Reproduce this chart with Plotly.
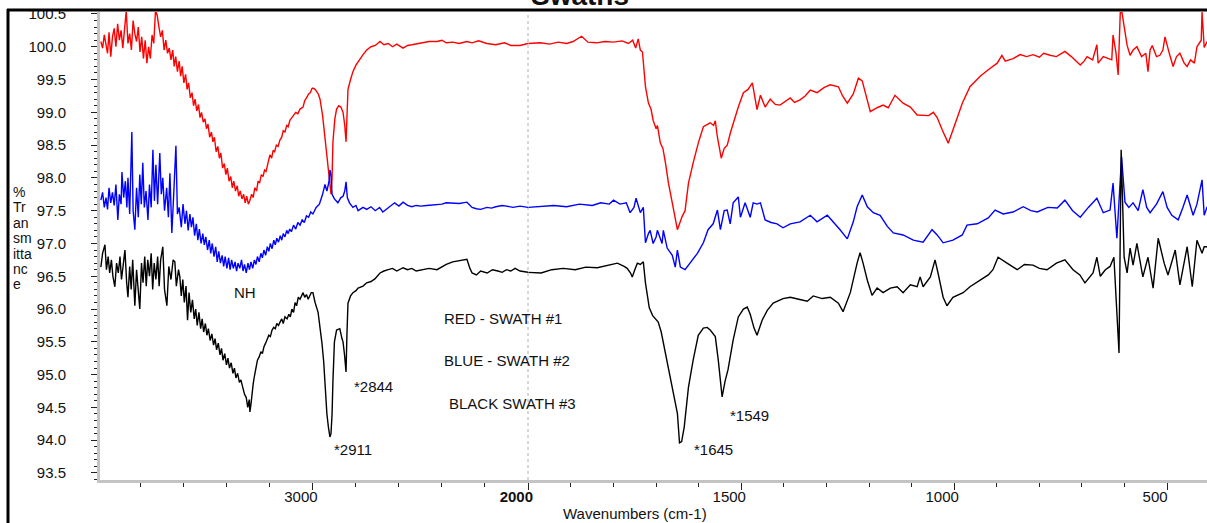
import plotly.graph_objects as go

# ---------------- data (wavenumber cm-1, % transmittance) ----------------
red_wn = [3986,3978,3970,3962,3955,3948,3940,3932,3924,3916,3908,3900,3892,3884,3876,3868,3860,3852,3844,3836,
          3828,3820,3812,3804,3796,3788,3780,3772,3764,3756,3748,3740,3732,3724,3716,3708,3700,3692,3684,3676,
          3668,3660,3652,3645,3638,3630,3622,3615,3608,3600,3592,3585,3578,3570,3562,3555,3548,3540,3532,3525,
          3518,3510,3502,3495,3488,3480,3472,3465,3458,3450,3442,3435,3428,3420,3412,3405,3398,3390,3382,3375,
          3368,3360,3352,3345,3338,3330,3322,3315,3308,3300,3293,3285,3278,3270,3262,3255,3248,3240,3232,3225,
          3218,3210,3200,3192,3185,3178,3170,3162,3153,3145,3138,3130,3122,3115,3107,3098,3090,3080,3070,3060,
          3046,3038,3030,3020,3012,3005,3000,2990,2975,2967,2955,2944,2935,2928,2921,2916,2911,2907,2898,2890,
          2880,2870,2860,2852,2846,2842,2837,2825,2814,2800,2785,2767,2750,2730,2710,2688,2670,2650,2630,2610,
          2581,2560,2540,2500,2460,2423,2400,2380,2350,2320,2284,2260,2230,2191,2150,2110,2080,2037,2000,
          1972,1950,1930,1910,1895,1875,1860,1840,1820,1800,1780,1765,1755,1748,1742,1737,1732,1725,1718,1712,
          1707,1700,1697,1690,1684,1678,1671,1662,1656,1650,1645,1639,1632,1624,1613,1601,1589,1573,1565,1561,
          1556,1547,1540,1533,1525,1519,1507,1495,1484,1474,1467,1463,1455,1444,1432,1420,1409,1395,1385,1375,
          1362,1350,1338,1322,1305,1291,1272,1262,1251,1237,1225,1216,1205,1197,1181,1167,1155,1139,1120,1103,
          1087,1073,1060,1049,1040,1028,1014,1003,981,963,939,920,899,888,880,862,845,830,815,800,
          790,775,760,740,725,704,695,688,675,665,662,650,639,630,627,620,615,610,606,601,
          594,587,580,571,560,550,545,540,535,525,517,510,505,495,486,478,470,460,453,445,
          436,430,420,418,413,406]
red_t = [100.08,99.98,100.18,100.05,99.90,100.22,99.85,100.15,100.28,100.00,100.35,100.10,100.25,99.98,100.30,100.55,100.05,100.20,99.95,100.40,
         100.20,100.08,100.30,99.92,100.15,99.82,100.10,99.75,100.00,99.82,100.18,100.05,100.55,100.48,100.30,100.15,100.25,99.95,100.10,99.90,
         99.98,99.80,99.95,99.70,99.85,99.62,99.78,99.55,99.70,99.45,99.58,99.35,99.45,99.22,99.30,99.10,99.20,99.02,99.12,98.92,
         99.00,98.85,98.90,98.75,98.82,98.62,98.70,98.55,98.62,98.40,98.48,98.30,98.38,98.15,98.22,98.05,98.15,97.95,98.02,97.85,
         97.95,97.80,97.88,97.72,97.80,97.68,97.75,97.62,97.72,97.60,97.66,97.75,97.70,97.85,97.80,97.95,97.92,98.05,98.02,98.12,
         98.10,98.22,98.35,98.30,98.42,98.40,98.50,98.48,98.58,98.62,98.72,98.70,98.80,98.78,98.88,98.92,98.95,99.00,98.98,99.05,
         99.08,99.18,99.22,99.28,99.30,99.36,99.37,99.35,99.28,99.20,98.95,98.60,98.40,98.10,97.85,97.75,98.00,98.55,98.90,99.05,
         99.10,99.08,99.00,98.80,98.55,98.90,99.35,99.50,99.62,99.72,99.80,99.88,99.95,100.00,100.02,100.08,100.03,100.05,100.00,100.04,
         99.98,100.02,100.03,100.05,100.08,100.08,100.10,100.06,100.07,100.05,100.08,100.06,100.09,100.05,100.03,100.06,100.02,100.02,100.05,
         100.06,100.04,100.07,100.05,100.08,100.16,100.07,100.06,100.08,100.07,100.09,100.05,100.10,99.98,100.12,99.95,99.92,99.39,99.14,99.05,
         98.88,98.75,98.80,98.53,98.45,98.23,97.92,97.62,97.40,97.21,97.30,97.41,97.50,97.92,98.23,98.53,98.78,98.84,98.80,98.87,
         98.62,98.30,98.45,98.50,98.70,98.84,99.08,99.30,99.35,99.45,99.14,99.04,99.26,99.08,99.20,99.12,99.11,99.18,99.22,99.15,
         99.19,99.25,99.34,99.30,99.38,99.42,99.39,99.25,99.14,99.28,99.52,99.48,99.20,99.01,99.07,99.11,99.07,99.26,99.14,99.08,
         98.96,98.96,98.95,99.00,98.92,98.73,98.53,98.73,99.14,99.39,99.55,99.65,99.75,99.87,99.78,99.82,99.88,99.85,99.88,99.84,
         99.90,99.87,99.85,99.93,99.85,99.72,99.78,99.85,99.80,100.03,99.75,99.85,99.82,99.80,100.18,99.90,99.57,100.53,100.52,100.30,
         100.02,99.87,99.95,100.00,99.85,99.90,99.62,99.95,100.02,99.85,99.87,99.95,100.15,99.90,99.70,99.85,99.90,99.75,99.70,99.80,
         99.75,100.00,100.10,100.53,99.99,100.08]

blue_wn = [3986,3978,3970,3962,3955,3948,3940,3932,3924,3916,3907,3900,3892,3888,3880,3872,3865,3860,3852,3842,
           3836,3828,3820,3812,3805,3798,3791,3784,3776,3767,3760,3752,3744,3737,3730,3722,3712,3705,3698,3690,
           3680,3672,3665,3656,3648,3637,3630,3622,3612,3604,3595,3588,3580,3572,3565,3558,3550,3542,3535,3528,
           3520,3512,3505,3498,3490,3482,3475,3468,3460,3452,3445,3438,3430,3422,3415,3408,3400,3392,3385,3378,
           3370,3362,3355,3348,3340,3332,3325,3318,3310,3302,3295,3288,3280,3272,3265,3258,3250,3242,3235,3228,
           3220,3212,3205,3198,3190,3182,3175,3168,3160,3152,3145,3138,3130,3122,3115,3108,3100,3090,3080,3070,
           3060,3050,3040,3030,3020,3010,3000,2985,2970,2955,
           2944,2935,2925,2921,2916,2911,2900,2884,2870,2860,2852,2846,2840,2830,2814,2800,2790,2767,2750,2730,
           2710,2690,2675,2660,2640,2620,2600,2581,2560,2540,2520,2500,2470,2440,2423,2400,2380,2350,2320,2284,
           2260,2240,2220,2191,2170,2150,2120,2100,2070,2037,2000,1970,1940,1910,1880,1850,1830,1810,1800,1785,
           1770,1761,1752,1747,1740,1737,1730,1725,1718,1714,1707,1700,1697,1690,1686,1683,1674,1662,1655,1650,
           1643,1632,1620,1603,1589,1578,1566,1556,1549,1540,1533,1526,1519,1507,1502,1491,1479,1472,1463,1455,
           1444,1430,1416,1402,1385,1362,1338,1322,1298,1284,1268,1251,1237,1228,1216,1204,1190,1174,1157,1143,
           1120,1096,1073,1052,1040,1026,1003,981,970,946,920,904,885,862,838,820,805,780,758,740,
           722,704,685,665,650,634,627,618,607,599,590,580,568,557,548,540,525,510,500,489,
           474,463,453,439,430,418,413,406]
blue_t = [97.66,97.78,97.55,97.70,97.52,97.85,97.62,97.78,97.58,97.90,97.36,97.75,97.60,98.09,97.70,97.95,97.55,98.00,97.45,98.70,
          97.50,97.21,97.85,97.40,98.05,97.60,98.23,97.55,97.80,97.36,97.90,97.55,98.43,97.65,98.20,97.60,98.38,97.75,98.00,97.50,
          97.85,97.40,98.07,97.16,97.70,98.49,97.45,97.55,97.25,97.60,97.30,97.50,97.20,97.45,97.25,97.40,97.12,97.30,97.05,97.22,
          97.00,97.15,96.98,97.10,96.90,97.05,96.85,97.00,96.80,96.95,96.72,96.88,96.70,96.82,96.65,96.80,96.62,96.78,96.60,96.75,
          96.62,96.72,96.58,96.70,96.62,96.75,96.58,96.68,96.55,96.70,96.60,96.72,96.62,96.75,96.68,96.80,96.72,96.85,96.78,96.90,
          96.82,96.95,96.88,97.00,96.92,97.05,96.98,97.08,97.02,97.12,97.05,97.15,97.10,97.20,97.15,97.22,97.18,97.28,97.22,97.32,
          97.28,97.36,97.32,97.42,97.40,97.48,97.45,97.55,97.60,97.75,
          97.90,97.80,97.95,98.12,98.05,97.75,97.68,97.62,97.70,97.72,97.80,97.94,97.70,97.62,97.55,97.58,97.50,97.55,97.52,97.56,
          97.50,97.55,97.48,97.52,97.58,97.62,97.57,97.63,97.58,97.56,97.58,97.57,97.58,97.59,97.59,97.60,97.62,97.62,97.61,97.63,
          97.55,97.53,97.52,97.55,97.54,97.56,97.58,97.57,97.55,97.57,97.55,97.56,97.58,97.56,97.60,97.58,97.62,97.60,97.66,97.60,
          97.62,97.47,97.55,97.69,97.52,97.47,97.55,97.01,97.15,97.20,97.00,97.10,97.20,97.05,97.00,97.20,96.93,96.82,96.64,96.90,
          96.64,96.60,96.70,96.85,97.01,97.21,97.30,97.51,97.21,97.50,97.51,97.30,97.62,97.71,97.40,97.62,97.40,97.62,97.60,97.62,
          97.36,97.32,97.30,97.24,97.30,97.33,97.43,97.33,97.43,97.33,97.21,97.07,97.33,97.56,97.74,97.56,97.47,97.43,97.26,97.16,
          97.13,97.05,97.02,97.21,97.13,97.01,97.05,97.13,97.28,97.30,97.39,97.51,97.45,97.48,97.56,97.50,97.48,97.55,97.54,97.66,
          97.50,97.40,97.55,97.69,97.47,97.51,97.92,97.08,98.32,97.63,97.55,97.62,97.50,97.82,97.55,97.47,97.60,97.79,97.55,97.43,
          97.36,97.55,97.74,97.43,97.60,97.97,97.43,97.56]

black_wn = [3986,3978,3967,3960,3952,3945,3937,3930,3921,3913,3905,3897,3890,3882,3874,3866,3860,3852,3845,3838,
            3828,3820,3812,3805,3797,3790,3782,3775,3768,3760,3752,3745,3738,3730,3722,3715,3708,3698,3690,3679,
            3670,3660,3650,3642,3635,3625,3619,3612,3605,3598,3590,3583,3576,3568,3560,3552,3545,3538,3530,3522,
            3515,3508,3500,3493,3486,3478,3470,3462,3455,3448,3440,3432,3425,3418,3410,3402,3395,3388,3380,3372,
            3365,3358,3350,3342,3335,3325,3318,3310,3303,3296,3293,3288,3283,3278,3273,3265,3258,3250,3242,3235,
            3228,3220,3214,3205,3198,3190,3182,3175,3168,3160,3153,3145,3138,3130,3120,3112,3105,3098,3090,3083,
            3076,3068,3060,3052,3046,3038,3030,3022,3015,3008,3000,2990,2976,2967,
            2958,2950,2944,2935,2928,2921,2916,2911,2907,2900,2890,2875,2865,2860,2853,2846,2842,2837,2825,2814,
            2800,2790,2767,2750,2730,2712,2688,2670,2650,2630,2610,2581,2560,2540,2520,2490,2460,2423,2400,2380,
            2350,2320,2284,2270,2260,2240,2220,2190,2165,2140,2120,2100,2080,2060,2037,2000,1970,1945,1918,1890,
            1865,1838,1815,1791,1775,1768,1760,1756,1750,1744,1737,1730,1725,1716,1708,1702,1695,1688,1683,1674,
            1662,1650,1645,1640,1634,1624,1613,1601,1589,1580,1573,1561,1554,1545,1538,1531,1519,1507,1495,1486,
            1479,1470,1463,1451,1439,1425,1402,1385,1365,1345,1331,1310,1291,1272,1261,1244,1228,1221,1214,1204,
            1193,1181,1167,1150,1134,1120,1103,1087,1080,1073,1056,1045,1038,1026,1017,1003,979,963,939,920,
            909,897,876,852,835,815,800,782,760,740,721,705,693,674,665,657,645,634,625,620,
            613,608,604,601,594,587,580,571,557,545,533,521,507,498,481,470,453,441,430,418,
            413,406]
black_t = [96.64,96.85,96.98,96.60,96.80,96.55,96.75,96.50,96.34,96.70,96.55,96.80,96.45,96.70,96.90,96.40,96.18,96.65,96.30,96.75,
           96.05,96.60,96.20,96.00,96.70,96.40,96.80,96.35,96.75,96.50,96.85,96.30,96.70,96.45,96.80,96.35,96.75,96.95,96.30,96.05,
           96.65,96.45,96.75,96.72,96.35,96.60,96.50,96.20,96.45,96.10,96.35,95.83,96.25,95.95,96.14,95.85,96.00,95.75,95.95,95.70,
           95.85,95.65,95.78,95.60,95.70,95.52,95.62,95.45,95.55,95.38,95.48,95.30,95.40,95.22,95.32,95.15,95.25,95.10,95.18,95.02,
           95.10,94.95,95.02,94.88,94.92,94.80,94.70,94.65,94.50,94.62,94.43,94.55,94.75,94.85,94.96,95.10,95.22,95.27,95.35,95.32,
           95.42,95.48,95.53,95.60,95.58,95.68,95.72,95.70,95.78,95.75,95.80,95.85,95.78,95.88,95.85,95.92,95.88,96.00,95.95,96.10,
           96.05,96.18,96.15,96.22,96.25,96.18,96.22,96.15,96.20,96.25,96.25,96.10,95.95,95.75,
           95.48,95.20,94.85,94.40,94.20,94.05,94.10,94.40,94.90,95.50,95.68,95.70,95.55,95.50,95.30,95.04,95.60,96.09,96.20,96.25,
           96.28,96.32,96.35,96.40,96.42,96.46,96.55,96.58,96.60,96.62,96.58,96.63,96.60,96.62,96.58,96.60,96.62,96.60,96.65,96.68,
           96.72,96.74,96.76,96.62,96.55,96.52,96.58,96.55,96.60,96.58,96.56,96.60,96.58,96.62,96.58,96.56,96.55,96.60,96.62,96.60,
           96.64,96.63,96.66,96.70,96.65,96.62,96.55,96.49,96.60,96.70,96.68,96.72,96.40,96.02,95.90,95.85,95.80,95.65,95.48,95.18,
           94.77,94.41,93.96,93.98,94.20,94.81,95.22,95.60,95.71,95.72,95.68,95.58,95.22,94.66,94.90,95.08,95.53,95.88,96.00,96.03,
           95.92,95.71,95.60,95.83,95.98,96.09,96.16,96.18,96.15,96.12,96.20,96.16,96.18,96.09,95.96,96.25,96.70,96.86,96.70,96.44,
           96.21,96.32,96.25,96.32,96.34,96.25,96.37,96.34,96.49,96.34,96.49,96.75,96.55,96.18,96.05,96.18,96.25,96.34,96.44,96.52,
           96.60,96.79,96.70,96.60,96.68,96.67,96.62,96.60,96.70,96.75,96.60,96.52,96.40,96.55,96.79,96.50,96.60,96.65,96.79,96.09,
           95.33,98.43,97.50,96.79,96.55,96.93,96.67,97.00,96.49,96.79,96.32,97.08,96.70,96.52,96.90,96.37,96.95,96.34,97.05,96.85,
           96.95,96.95]

series = [("red", red_wn, red_t), ("blue", blue_wn, blue_t), ("black", black_wn, black_t)]

y_major = [93.5, 94.0, 94.5, 95.0, 95.5, 96.0, 96.5, 97.0, 97.5, 98.0, 98.5, 99.0, 99.5, 100.0, 100.5]
y_minor = [round(93.4 + 0.1 * i, 1) for i in range(72) if round(93.4 + 0.1 * i, 1) not in y_major]
x_hi_major = [3000]
x_hi_minor = [3800, 3600, 3400, 3200, 2800, 2600, 2400, 2200]
x_lo_major = [2000, 1500, 1000, 500]
x_lo_minor = [1900, 1800, 1700, 1600, 1400, 1300, 1200, 1100, 900, 800, 700, 600]

FONT = "Liberation Sans, Arial, sans-serif"

fig = go.Figure()
for color, wn, t in series:
    hi = [(w, v) for w, v in zip(wn, t) if w >= 2000]
    lo = [(w, v) for w, v in zip(wn, t) if w <= 2000]
    fig.add_trace(go.Scatter(x=[p[0] for p in hi], y=[p[1] for p in hi], mode="lines",
                             line=dict(color=color, width=1.4), xaxis="x", yaxis="y", showlegend=False))
    fig.add_trace(go.Scatter(x=[p[0] for p in lo], y=[p[1] for p in lo], mode="lines",
                             line=dict(color=color, width=1.4), xaxis="x2", yaxis="y", showlegend=False))

split = (528 - 100) / 1107
axis_common = dict(showgrid=False, zeroline=False, showline=True, linecolor="#c4c4c4", linewidth=3,
                   ticks="outside", ticklen=7, tickwidth=1.3, tickcolor="#222",
                   tickfont=dict(family=FONT, size=15, color="#111"), ticklabelshift=12,
                   ticklabelstandoff=-6)

fig.update_layout(
    width=1207, height=523,
    margin=dict(l=100, r=0, t=12, b=43),
    paper_bgcolor="white", plot_bgcolor="white",
    xaxis=dict(domain=[0, split], range=[3990, 2000], anchor="y", tickmode="array",
               tickvals=x_hi_major, ticktext=[str(v) for v in x_hi_major],
               minor=dict(tickmode="array", tickvals=x_hi_minor, ticks="outside", ticklen=4,
                          tickcolor="#222", tickwidth=1.3), **axis_common),
    xaxis2=dict(domain=[split, 1], range=[2000.8, 406.4], anchor="y", tickmode="array",
                tickvals=x_lo_major,
                ticktext=["<b>2000</b>"] + [str(v) for v in x_lo_major[1:]],
                minor=dict(tickmode="array", tickvals=x_lo_minor, ticks="outside", ticklen=4,
                           tickcolor="#222", tickwidth=1.3), **axis_common),
    yaxis=dict(range=[93.393, 100.53], showgrid=False, zeroline=False, showline=True,
               linecolor="#c4c4c4", linewidth=3, ticks="outside", ticklen=6, tickwidth=1.3,
               tickcolor="#222", tickmode="array", tickvals=y_major,
               ticktext=[f"{v:.1f}" for v in y_major], ticklabelstandoff=22,
               tickfont=dict(family=FONT, size=15, color="#111"),
               minor=dict(tickmode="array", tickvals=y_minor, ticks="outside", ticklen=3,
                          tickcolor="#222", tickwidth=1.3)),
    font=dict(family=FONT, color="#111"),
)

def px(x):
    return (x - 100) / 1107

def py(y):
    return (480 - y) / 468

# frame lines and 2000 break marker
fig.add_shape(type="line", xref="paper", yref="paper", x0=px(8), x1=px(8), y0=py(9), y1=py(530),
              line=dict(color="black", width=3))
fig.add_shape(type="line", xref="paper", yref="paper", x0=px(7), x1=px(1210), y0=py(10), y1=py(10),
              line=dict(color="black", width=3))
fig.add_shape(type="line", xref="paper", yref="paper", x0=split, x1=split, y0=0, y1=1,
              line=dict(color="#b0b0b0", width=1, dash="dot"), layer="below")

ylabel_lines = ["%", "Tr", "an", "sm", "itta", "nc", "e"]
ann = [
    ("<b>Swaths</b>", 580, 13, "center", "bottom", 28),
    ("Wavenumbers (cm-1)", 635, 513, "center", "middle", 15),
    ("NH", 245, 292, "center", "middle", 15),
    ("*2844", 352, 386, "left", "middle", 15),
    ("*2911", 332, 449, "left", "middle", 15),
    ("*1645", 692, 449, "left", "middle", 15),
    ("*1549", 728, 415, "left", "middle", 15),
    ("RED - SWATH #1", 442, 318, "left", "middle", 15),
    ("BLUE - SWATH #2", 442, 360, "left", "middle", 15),
    ("BLACK SWATH #3", 447, 403, "left", "middle", 15),
]
for i, s in enumerate(ylabel_lines):
    ann.append((s, 11, 192 + 15.4 * i, "left", "middle", 14))

for text, x, y, xa, ya, size in ann:
    fig.add_annotation(text=text, x=px(x), y=py(y), xref="paper", yref="paper", xanchor=xa, yanchor=ya,
                       showarrow=False, align="left", font=dict(family=FONT, size=size, color="#111"))

fig.write_html("out.html")
